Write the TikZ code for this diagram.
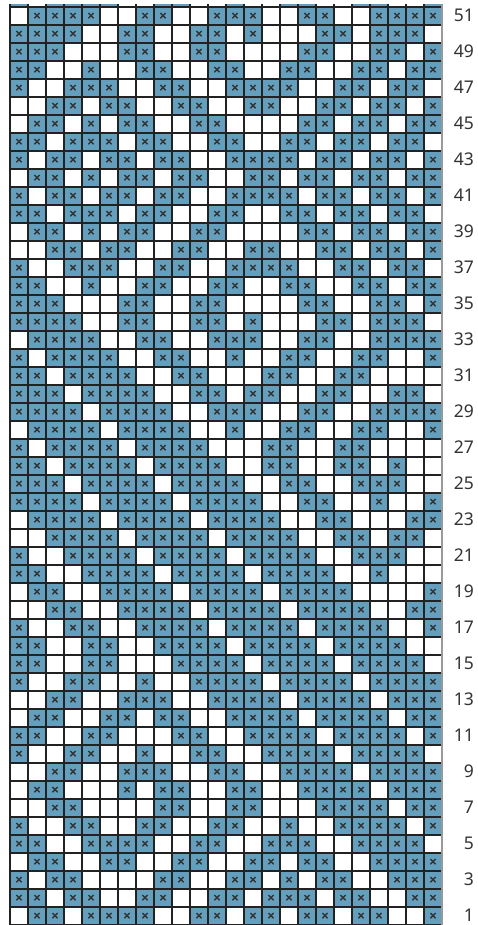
\documentclass[tikz,border=0pt]{standalone}
\usepackage{fontspec}
\setmainfont{Noto Sans}

\definecolor{stitchblue}{RGB}{100,159,190}
\definecolor{gridink}{RGB}{34,34,34}
\definecolor{markink}{RGB}{51,51,51}

\tikzset{
  gridline/.style={draw=gridink, line width=2pt},
  rightedge/.style={draw=gray!80, line width=1.6pt},
  xmark/.style={draw=markink, line width=1.4pt},
  rowlabel/.style={anchor=east, inner sep=0pt, text=markink, font=\fontsize{17.5}{17.5}\selectfont},
}

\begin{document}
\begin{tikzpicture}[x=1pt,y=1pt]
    \useasboundingbox (0,0) rectangle (477,925);

    \begin{scope}
    \clip (0,0) rectangle (477,920.6);
    % blue stitches, row / columns
    \foreach \r/\cols in {
        52/{1,3,4,5,6,9,10,13,16,17,20,21,24},
        51/{2,3,4,5,8,9,12,13,14,17,18,21,22,23,24},
        50/{1,2,3,4,7,8,11,12,14,18,19,21,22,23},
        49/{1,2,3,7,8,11,12,17,18,21,22,24},
        48/{1,2,5,8,9,12,13,16,17,20,21,23,24},
        47/{1,4,5,6,9,10,13,14,15,16,19,20,22,23},
        46/{3,4,6,7,10,11,14,15,18,19,21,22,24},
        45/{2,3,5,7,8,11,12,17,18,20,21,23,24},
        44/{1,2,4,5,6,8,9,12,13,16,17,19,20,22,23},
        43/{1,3,4,6,7,9,10,13,14,15,16,18,19,21,22,24},
        42/{2,3,5,7,8,10,11,14,15,17,18,20,21,23,24},
        41/{1,3,4,6,7,9,10,13,14,15,16,18,19,21,22,24},
        40/{1,2,4,5,6,8,9,12,13,16,17,19,20,22,23},
        39/{2,3,5,7,8,11,12,17,18,20,21,23,24},
        38/{3,4,6,7,10,11,14,15,18,19,21,22,24},
        37/{1,4,5,6,9,10,13,14,15,16,19,20,22,23},
        36/{1,2,5,8,9,12,13,16,17,20,21,23,24},
        35/{1,2,3,7,8,11,12,17,18,21,22,24},
        34/{1,2,3,4,7,8,11,12,14,18,19,21,22,23},
        33/{2,3,4,5,8,9,12,13,14,17,18,21,22,23,24},
        32/{1,3,4,5,6,9,10,13,16,17,20,21,24},
        31/{1,2,4,5,6,7,10,11,15,16,19,20},
        30/{1,2,3,5,6,7,8,11,12,14,15,18,19,22,23},
        29/{1,2,3,4,6,7,8,9,12,13,14,17,18,21,22,23,24},
        28/{2,3,4,5,7,8,9,10,13,16,17,20,21,24},
        27/{1,3,4,5,6,8,9,10,11,15,16,19,20},
        26/{1,2,4,5,6,7,9,10,11,12,15,16,19,20,22},
        25/{1,2,3,5,6,7,8,10,11,12,13,16,17,20,21,22},
        24/{1,2,3,4,6,7,8,9,11,12,13,14,17,18,21,24},
        23/{2,3,4,5,7,8,9,10,12,13,14,15,18,19,23,24},
        22/{3,4,5,6,8,9,10,11,13,14,15,16,19,20,22,23},
        21/{1,4,5,6,7,9,10,11,12,14,15,16,17,20,21,22},
        20/{1,2,5,6,7,8,10,11,12,13,15,16,17,18,21},
        19/{2,3,6,7,8,9,11,12,13,14,16,17,18,19,24},
        18/{3,4,7,8,9,10,12,13,14,15,17,18,19,20,23,24},
        17/{1,4,5,8,9,10,11,13,14,15,16,18,19,20,21,24},
        16/{1,2,5,6,9,10,11,12,14,15,16,17,19,20,21,22},
        15/{1,2,5,6,10,11,12,13,15,16,17,18,20,21,22,23},
        14/{1,4,5,8,11,12,13,14,16,17,18,19,21,22,23,24},
        13/{3,4,7,8,9,12,13,14,15,17,18,19,20,22,23,24},
        12/{2,3,6,7,9,10,13,14,15,16,18,19,20,21,23,24},
        11/{1,2,5,6,10,11,14,15,16,17,19,20,21,22,24},
        10/{1,4,5,8,11,12,15,16,17,18,20,21,22,23},
        9/{3,4,7,8,9,12,13,16,17,18,19,21,22,23,24},
        8/{2,3,7,9,10,13,14,17,18,19,20,22,23,24},
        7/{3,4,9,10,13,14,18,19,20,21,23,24},
        6/{1,4,5,8,9,12,13,16,19,20,21,22,24},
        5/{1,2,5,6,7,8,11,12,15,16,17,20,21,22,23},
        4/{2,3,6,7,10,11,14,15,17,18,21,22,23,24},
        3/{1,3,4,9,10,13,14,16,18,19,22,23,24},
        2/{1,2,4,5,8,9,12,13,15,16,17,19,20,23,24},
        1/{2,3,5,6,7,8,11,12,14,15,17,18,20,21,24}}
      \foreach \c in \cols {
        \begin{scope}[shift={({18*\c+1},{18*\r-8.7})}]
          \fill[stitchblue] (-9,-9) rectangle (9,9);
          \draw[xmark] (-2.6,-2.6) -- (2.6,2.6) (-2.6,2.6) -- (2.6,-2.6);
        \end{scope}
      };

    % grid lines
    \foreach \k in {0,...,51}
      \draw[gridline] (9,{18*\k+0.3}) -- (443,{18*\k+0.3});
    \foreach \k in {0,...,23}
      \draw[gridline] ({10+18*\k},0) -- ({10+18*\k},925);
    \draw[rightedge] (442,0) -- (442,925);
    \end{scope}

    % row numbers
    \foreach \r in {1,3,...,51}
      \node[rowlabel] (row\r) at (474,{18*\r-8.2}) {\r};
\end{tikzpicture}
\end{document}
